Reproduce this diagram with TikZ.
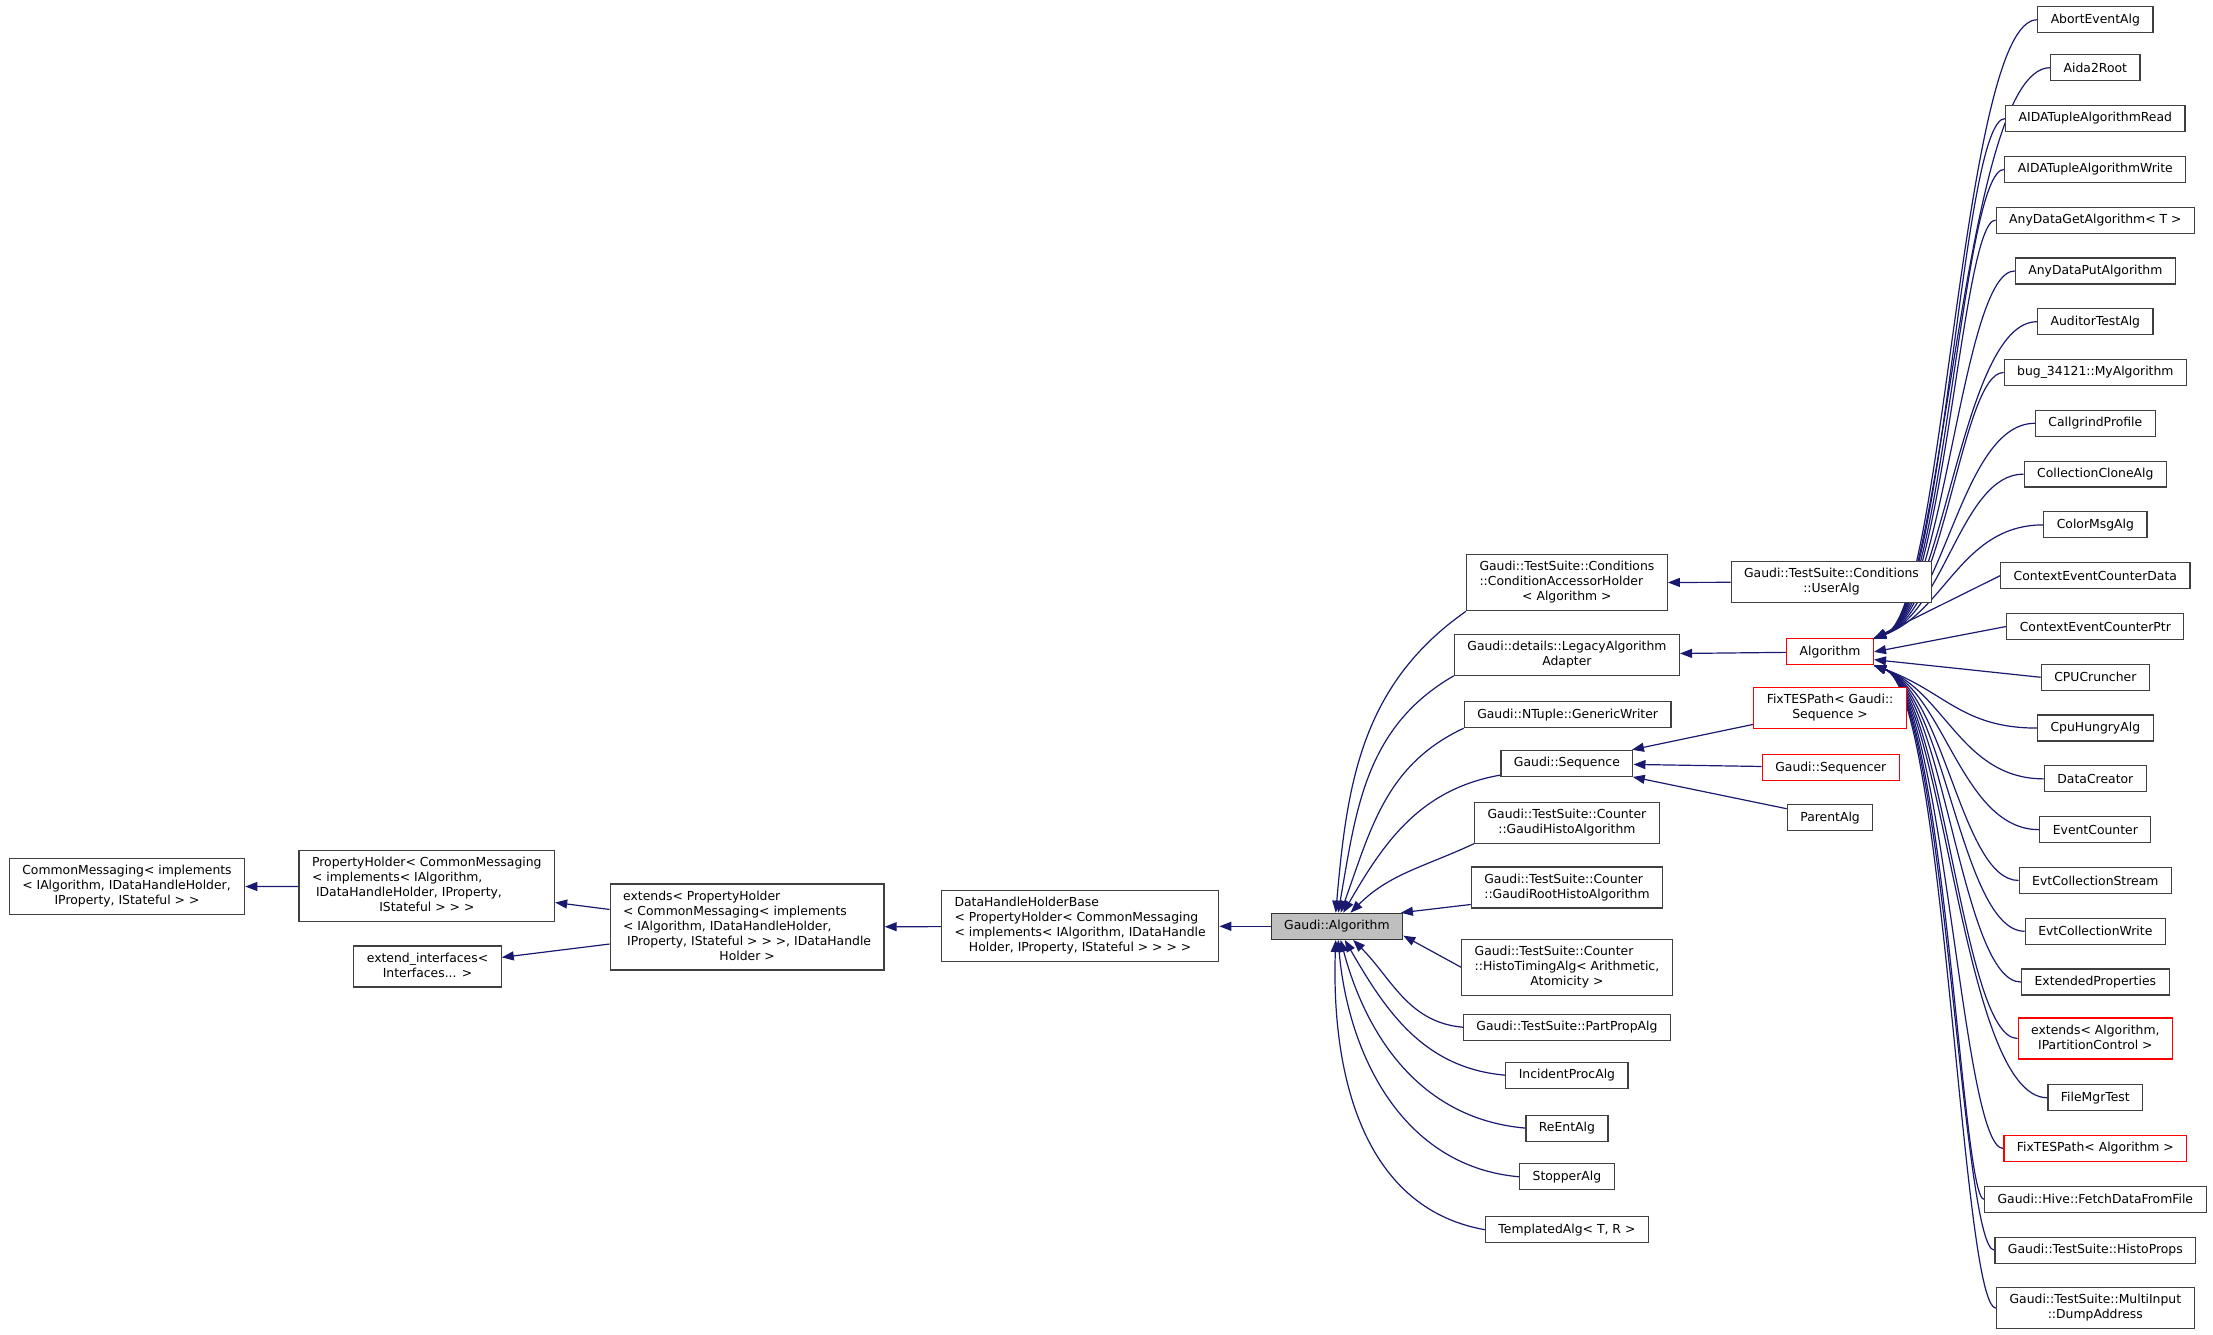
\documentclass[tikz,border=0pt]{standalone}
\usepackage{fontspec}
\setmainfont{DejaVu Sans}
\usepackage{xcolor}
\usepackage{tikz}
\usetikzlibrary{arrows.meta}
\usetikzlibrary{backgrounds}

\definecolor{edgeblue}{HTML}{191970}
\definecolor{boxgray}{HTML}{404040}
\definecolor{curfill}{HTML}{BFBFBF}

% lines of a class name, the last one centred
\newcommand{\dxtxt}[2]{\begin{tabular}{@{}l@{}}#1\\\multicolumn{1}{@{}c@{}}{#2}\end{tabular}}

\tikzset{
  cls/.style={draw=boxgray, fill=white, line width=0.6pt, inner xsep=6.5pt, inner ysep=2.75pt,
    minimum height=13pt, font=\fontsize{6.2}{7.5}\selectfont},
  redcls/.style={cls, draw=red},
  cur/.style={cls, fill=curfill, draw=black!80},
  inh/.style={draw=edgeblue, line width=0.6pt, {Triangle[length=6pt,width=4.5pt]}-},
}

\begin{document}
\begin{tikzpicture}[x=0.7056pt, y=-0.7056pt]
    \useasboundingbox (0,0) rectangle (1568.4,946.1);
    % base classes
    \node[cls] (cm) at (90,628.5) {\dxtxt{CommonMessaging< implements\\< IAlgorithm, IDataHandleHolder,}{IProperty, IStateful > >}};
    \node[cls] (ph) at (302.5,628) {\dxtxt{PropertyHolder< CommonMessaging\\< implements< IAlgorithm,\\~IDataHandleHolder, IProperty,}{IStateful > > >}};
    \node[cls] (ei) at (303,685) {\dxtxt{extend\_interfaces<}{Interfaces... >}};
    \node[cls] (ext) at (529.5,657) {\dxtxt{extends< PropertyHolder\\< CommonMessaging< implements\\< IAlgorithm, IDataHandleHolder,\\~IProperty, IStateful > > >, IDataHandle}{Holder >}};
    \node[cls] (dhb) at (765.5,656.5) {\dxtxt{DataHandleHolderBase\\< PropertyHolder< CommonMessaging\\< implements< IAlgorithm, IDataHandle}{Holder, IProperty, IStateful > > > >}};
    \node[cur] (ga) at (947.5,656.5) {Gaudi::Algorithm};

    % direct subclasses
    \node[cls] (cah) at (1110.5,413) {\dxtxt{Gaudi::TestSuite::Conditions\\::ConditionAccessorHolder}{< Algorithm >}};
    \node[cls] (laa) at (1110.5,464) {\dxtxt{Gaudi::details::LegacyAlgorithm}{Adapter}};
    \node[cls] (ntw) at (1111,506.5) {Gaudi::NTuple::GenericWriter};
    \node[cls] (seq) at (1110.5,541) {Gaudi::Sequence};
    \node[cls] (gha) at (1110.5,583) {\dxtxt{Gaudi::TestSuite::Counter}{::GaudiHistoAlgorithm}};
    \node[cls] (grha) at (1110.5,629) {\dxtxt{Gaudi::TestSuite::Counter}{::GaudiRootHistoAlgorithm}};
    \node[cls] (hta) at (1110.5,685.5) {\dxtxt{Gaudi::TestSuite::Counter\\::HistoTimingAlg< Arithmetic,}{Atomicity >}};
    \node[cls] (ppa) at (1110.5,728) {Gaudi::TestSuite::PartPropAlg};
    \node[cls] (ipa) at (1110.5,762) {IncidentProcAlg};
    \node[cls] (rea) at (1110.5,799.5) {ReEntAlg};
    \node[cls] (sta) at (1110.5,834) {StopperAlg};
    \node[cls] (tpa) at (1110.5,871.5) {TemplatedAlg< T, R >};

    % third rank
    \node[cls] (ua) at (1298,412.5) {\dxtxt{Gaudi::TestSuite::Conditions}{::UserAlg}};
    \node[redcls] (alg) at (1297,462) {Algorithm};
    \node[redcls] (ftsq) at (1297,502) {\dxtxt{FixTESPath< Gaudi::}{Sequence >}};
    \node[redcls] (sqr) at (1297.5,544) {Gaudi::Sequencer};
    \node[cls] (pa) at (1297,579.5) {ParentAlg};

    % subclasses of Algorithm
    \node[cls] (abort) at (1485,14) {AbortEventAlg};
    \node[cls] (aida) at (1485,48) {Aida2Root};
    \node[cls] (atread) at (1485,84) {AIDATupleAlgorithmRead};
    \node[cls] (atwrite) at (1485,120) {AIDATupleAlgorithmWrite};
    \node[cls] (adget) at (1485,156) {AnyDataGetAlgorithm< T >};
    \node[cls] (adput) at (1485,192) {AnyDataPutAlgorithm};
    \node[cls] (audtest) at (1485,228) {AuditorTestAlg};
    \node[cls] (bugalg) at (1485,264) {bug\_34121::MyAlgorithm};
    \node[cls] (callgrind) at (1485,300) {CallgrindProfile};
    \node[cls] (collclone) at (1485,336) {CollectionCloneAlg};
    \node[cls] (colormsg) at (1485,372) {ColorMsgAlg};
    \node[cls] (ctxdata) at (1485,408) {ContextEventCounterData};
    \node[cls] (ctxptr) at (1485,444) {ContextEventCounterPtr};
    \node[cls] (cpucr) at (1485,480) {CPUCruncher};
    \node[cls] (cpuhungry) at (1485,516) {CpuHungryAlg};
    \node[cls] (datacr) at (1485,552) {DataCreator};
    \node[cls] (evcount) at (1485,588) {EventCounter};
    \node[cls] (evtstream) at (1485,624) {EvtCollectionStream};
    \node[cls] (evtwrite) at (1485,660) {EvtCollectionWrite};
    \node[cls] (extprops) at (1485,696) {ExtendedProperties};
    \node[redcls] (extpart) at (1485,736) {\dxtxt{extends< Algorithm,}{IPartitionControl >}};
    \node[cls] (filemgr) at (1485,778) {FileMgrTest};
    \node[redcls] (fixalg) at (1485,814) {FixTESPath< Algorithm >};
    \node[cls] (fetchdata) at (1485,850) {Gaudi::Hive::FetchDataFromFile};
    \node[cls] (histoprops) at (1485,886) {Gaudi::TestSuite::HistoProps};
    \node[cls] (dumpaddr) at (1485,927) {\dxtxt{Gaudi::TestSuite::MultiInput}{::DumpAddress}};
    \coordinate (bund) at (1390,462);

    \begin{scope}[on background layer]
    \draw[inh] (cm) -- (ph);
    \draw[inh] (ph) -- (ext);
    \draw[inh] (ei) -- (ext);
    \draw[inh] (ext) -- (dhb);
    \draw[inh] (dhb) -- (ga);

    \draw[inh] (ga.95) to[out=85,in=215] (cah.south west);
    \draw[inh] (ga.85) to[out=80,in=210] (laa.south west);
    \draw[inh] (ga.75) to[out=70,in=205] (ntw.south west);
    \draw[inh] (ga.65) to[out=60,in=190] (seq.190);
    \draw[inh] (ga.45) to[out=45,in=205] (gha.south west);
    \draw[inh] (ga.12) -- (grha.190);
    \draw[inh] (ga.-8) -- (hta.west);
    \draw[inh] (ga.-40) to[out=-45,in=175] (ppa.west);
    \draw[inh] (ga.-60) to[out=-60,in=175] (ipa.west);
    \draw[inh] (ga.-75) to[out=-75,in=175] (rea.west);
    \draw[inh] (ga.-85) to[out=-85,in=175] (sta.west);
    \draw[inh] (ga.-95) to[out=-92,in=170] (tpa.west);

    \draw[inh] (cah) -- (ua);
    \draw[inh] (laa) -- (alg);
    \draw[inh] (seq) -- (ftsq);
    \draw[inh] (seq) -- (sqr);
    \draw[inh] (seq) -- (pa);

    \draw[inh] (alg.north east) .. controls +(50,-18) and (bund |- abort.west) .. (abort.west);
    \draw[inh] (alg.north east) .. controls +(50,-18) and (bund |- aida.west) .. (aida.west);
    \draw[inh] (alg.north east) .. controls +(50,-18) and (bund |- atread.west) .. (atread.west);
    \draw[inh] (alg.north east) .. controls +(50,-18) and (bund |- atwrite.west) .. (atwrite.west);
    \draw[inh] (alg.north east) .. controls +(50,-18) and (bund |- adget.west) .. (adget.west);
    \draw[inh] (alg.north east) .. controls +(50,-18) and (bund |- adput.west) .. (adput.west);
    \draw[inh] (alg.north east) .. controls +(50,-18) and (bund |- audtest.west) .. (audtest.west);
    \draw[inh] (alg.north east) .. controls +(50,-18) and (bund |- bugalg.west) .. (bugalg.west);
    \draw[inh] (alg.north east) .. controls +(50,-18) and (bund |- callgrind.west) .. (callgrind.west);
    \draw[inh] (alg.north east) .. controls +(50,-18) and (bund |- collclone.west) .. (collclone.west);
    \draw[inh] (alg.north east) .. controls +(50,-18) and (bund |- colormsg.west) .. (colormsg.west);
    \draw[inh] (alg.north east) -- (ctxdata.west);
    \draw[inh] (alg.east) -- (ctxptr.west);
    \draw[inh] (alg.-10) -- (cpucr.west);
    \draw[inh] (alg.south east) .. controls +(50,18) and (bund |- cpuhungry.west) .. (cpuhungry.west);
    \draw[inh] (alg.south east) .. controls +(50,18) and (bund |- datacr.west) .. (datacr.west);
    \draw[inh] (alg.south east) .. controls +(50,18) and (bund |- evcount.west) .. (evcount.west);
    \draw[inh] (alg.south east) .. controls +(50,18) and (bund |- evtstream.west) .. (evtstream.west);
    \draw[inh] (alg.south east) .. controls +(50,18) and (bund |- evtwrite.west) .. (evtwrite.west);
    \draw[inh] (alg.south east) .. controls +(50,18) and (bund |- extprops.west) .. (extprops.west);
    \draw[inh] (alg.south east) .. controls +(50,18) and (bund |- extpart.west) .. (extpart.west);
    \draw[inh] (alg.south east) .. controls +(50,18) and (bund |- filemgr.west) .. (filemgr.west);
    \draw[inh] (alg.south east) .. controls +(50,18) and (bund |- fixalg.west) .. (fixalg.west);
    \draw[inh] (alg.south east) .. controls +(50,18) and (bund |- fetchdata.west) .. (fetchdata.west);
    \draw[inh] (alg.south east) .. controls +(50,18) and (bund |- histoprops.west) .. (histoprops.west);
    \draw[inh] (alg.south east) .. controls +(50,18) and (bund |- dumpaddr.west) .. (dumpaddr.west);
    \end{scope}
\end{tikzpicture}
\end{document}
